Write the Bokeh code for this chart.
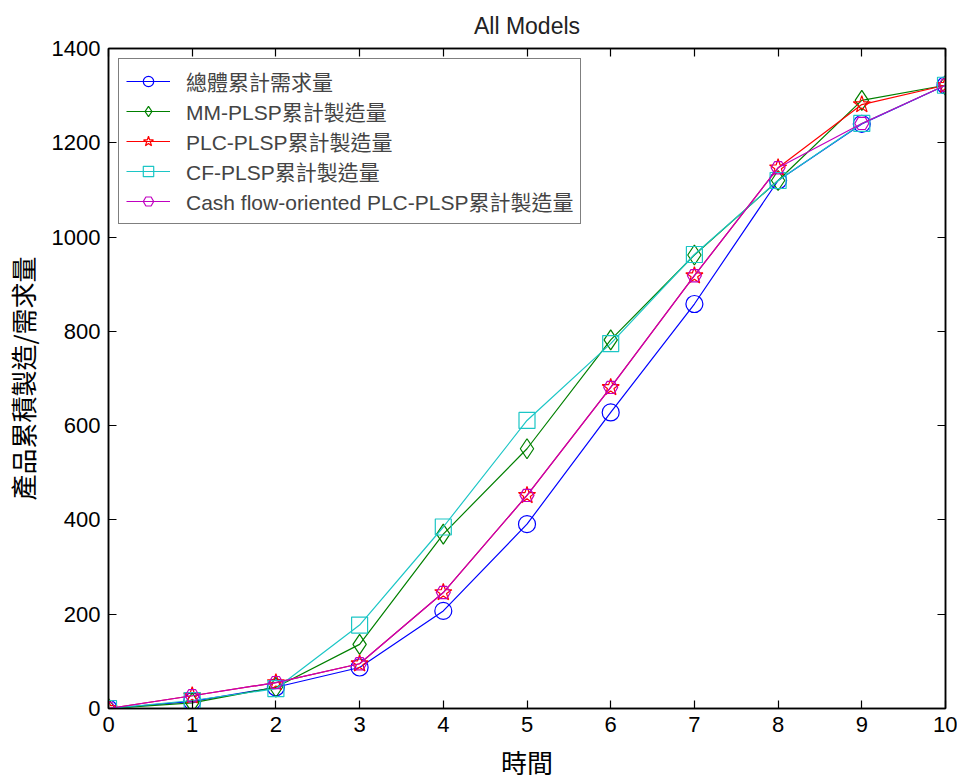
from bokeh.plotting import figure
from bokeh.models import LinearAxis, FixedTicker, Range1d, Legend
from bokeh.embed import file_html
from bokeh.resources import INLINE

# ---- data ----
periods = [0, 1, 2, 3, 4, 5, 6, 7, 8, 9, 10]
demand_total = [0, 15, 45, 87, 207, 391, 628, 858, 1120, 1240, 1322]
mm_plsp = [0, 12, 45, 136, 370, 551, 782, 962, 1120, 1290, 1322]
plc_plsp = [0, 27, 55, 95, 246, 452, 681, 918, 1147, 1281, 1322]
cf_plsp = [0, 17, 42, 177, 385, 611, 774, 963, 1120, 1241, 1322]
cash_plc_plsp = [0, 27, 55, 95, 246, 452, 681, 918, 1147, 1241, 1322]

series_names = ["總體累計需求量", "MM-PLSP累計製造量", "PLC-PLSP累計製造量",
                "CF-PLSP累計製造量", "Cash flow-oriented PLC-PLSP累計製造量"]
x_ticks = [0, 1, 2, 3, 4, 5, 6, 7, 8, 9, 10]
y_ticks = [0, 200, 400, 600, 800, 1000, 1200, 1400]

LATIN = "Liberation Sans, Noto Sans CJK TC"
CJK = "Noto Sans CJK TC"

p = figure(frame_width=837, frame_height=660, output_backend="svg",
           toolbar_location=None, x_range=Range1d(0, 10), y_range=Range1d(0, 1400),
           min_border_left=100, min_border_right=12, min_border_top=48,
           min_border_bottom=56, title="All Models")
p.title.align = "center"
p.title.text_font = LATIN
p.title.text_font_size = "23px"
p.title.text_font_style = "normal"
p.title.text_color = "#222222"
p.title.standoff = 19

p.grid.visible = False
p.outline_line_color = "black"
p.outline_line_width = 1.5

styles = [
    (demand_total, "#0000FF", "circle", 17),
    (mm_plsp, "#008000", "diamond", 20),
    (plc_plsp, "#FF0000", "star", 18),
    (cf_plsp, "#1CC6C6", "square", 16),
    (cash_plc_plsp, "#C000C0", "hex", 14),
]

items = []
for (vals, col, mk, sz), name in zip(styles, series_names):
    r1 = p.line(periods, vals, line_color=col, line_width=1.2)
    r2 = p.scatter(periods, vals, marker=mk, size=sz, fill_color=None,
                   line_color=col, line_width=1.2)
    items.append((name, [r1, r2]))

legend = Legend(items=items, location="top_left")
legend.label_text_font = LATIN
legend.label_text_font_size = "21px"
legend.label_height = 26
legend.glyph_height = 26
legend.glyph_width = 44
legend.spacing = 0
legend.padding = 7
legend.margin = 10
legend.label_standoff = 16
legend.border_line_color = "black"
legend.border_line_width = 1.2
legend.background_fill_alpha = 1
p.add_layout(legend)

for ax in [p.xaxis[0], p.yaxis[0]]:
    ax.major_tick_in = 8
    ax.major_tick_out = 0
    ax.minor_tick_line_color = None
    ax.axis_line_width = 1.5
    ax.major_tick_line_width = 1.2
    ax.major_label_text_font = LATIN
    ax.major_label_text_font_size = "22px"
    ax.major_label_text_color = "black"
    ax.major_label_standoff = 8
    ax.axis_label_text_font = CJK
    ax.axis_label_text_font_size = "26px"
    ax.axis_label_text_font_style = "normal"
    ax.axis_label_text_color = "black"
    ax.axis_label_standoff = 8

p.xaxis[0].ticker = FixedTicker(ticks=x_ticks)
p.yaxis[0].ticker = FixedTicker(ticks=y_ticks)
p.xaxis[0].axis_label = "時間"
p.yaxis[0].axis_label = "產品累積製造/需求量"

for side, ticks in [("above", x_ticks), ("right", y_ticks)]:
    ax = LinearAxis(ticker=FixedTicker(ticks=ticks))
    ax.major_tick_in = 8
    ax.major_tick_out = 0
    ax.minor_tick_line_color = None
    ax.axis_line_width = 1.5
    ax.major_tick_line_width = 1.2
    ax.major_label_overrides = {t: "" for t in ticks}
    ax.major_label_standoff = 0
    p.add_layout(ax, side)

open("out.html", "w").write(file_html(p, INLINE))
